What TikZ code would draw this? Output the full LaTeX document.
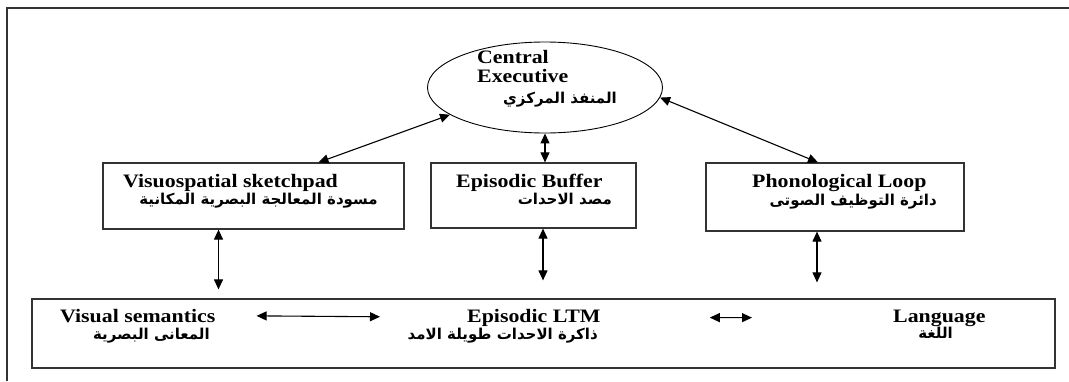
\documentclass[tikz,border=0pt]{standalone}
\usepackage{fontspec}
\setmainfont{Liberation Serif}[FakeStretch=1.15]
\newfontfamily\arabicfont[Script=Arabic]{DejaVu Sans}
\TeXXeTstate=1
\usetikzlibrary{arrows.meta,shapes.geometric}

\begin{document}
\begin{tikzpicture}[x=1pt,y=-1pt,
    box_node/.style={draw=black!80,line width=1.2pt,rectangle,inner sep=0pt},
    en_text/.style={inner sep=0pt,anchor=base west,font=\bfseries\fontsize{19}{22}\selectfont},
    ar_text/.style={inner sep=0pt,anchor=base east,font=\arabicfont\bfseries\fontsize{15}{17}\selectfont},
    link/.style={<->,>={Triangle[length=10pt,width=9pt]},line width=1.1pt}]

    \useasboundingbox (0,0) rectangle (1069,381);
    \draw[black!80,line width=1.5pt] (7,381) -- (7,8) -- (1069,8);

    \node[draw,ellipse,line width=0.9pt,minimum width=235pt,minimum height=91pt] (ce) at (545,87.5) {};
    \node[box_node,minimum width=301pt,minimum height=66pt] (vs) at (253.5,196) {};
    \node[box_node,minimum width=205pt,minimum height=65pt] (eb) at (533.5,195.5) {};
    \node[box_node,minimum width=258pt,minimum height=68pt] (pl) at (835,197) {};
    \node[box_node,minimum width=1023pt,minimum height=69pt] (ltm) at (543.5,333.5) {};

    \node[en_text] (ce_en1) at (477,63) {Central};
    \node[en_text] (ce_en2) at (477,82) {Executive};
    \node[ar_text] (ce_ar) at (617,103) {\beginR المنفذ المركزي\endR};

    \node[en_text] (vs_en) at (123,187) {Visuospatial sketchpad};
    \node[ar_text] (vs_ar) at (378,204) {\beginR مسودة المعالجة البصرية المكانية\endR};
    \node[en_text] (eb_en) at (456,187) {Episodic Buffer};
    \node[ar_text] (eb_ar) at (612,204) {\beginR مصد الاحدات\endR};
    \node[en_text] (pl_en) at (752,187) {Phonological Loop};
    \node[ar_text] (pl_ar) at (937,205) {\beginR دائرة التوظيف الصوتى\endR};

    \node[en_text] (vsem_en) at (60,322) {Visual semantics};
    \node[ar_text] (vsem_ar) at (210,339) {\beginR المعانى البصرية\endR};
    \node[en_text] (eltm_en) at (467,322) {Episodic LTM};
    \node[ar_text] (eltm_ar) at (598,339) {\beginR ذاكرة الاحدات طويلة الامد\endR};
    \node[en_text] (lang_en) at (893,322) {Language};
    \node[ar_text] (lang_ar) at (953,338) {\beginR اللغة\endR};

    \path[link]
    (ce.south) edge (ce.south |- eb.north)
    (ce.196) edge ([xshift=65pt]vs.north)
    (ce.355) edge ([xshift=-17pt]pl.north);

    \path[link]
    ([xshift=-35pt]vs.south) edge[shorten >=9pt] ([xshift=-35pt]vs.south |- ltm.north)
    ([xshift=9.5pt]eb.south) edge[shorten >=18pt] ([xshift=9.5pt]eb.south |- ltm.north)
    ([xshift=-18pt]pl.south) edge[shorten >=16pt] ([xshift=-18pt]pl.south |- ltm.north);

    \path[link]
    (vsem_en.east) edge[shorten <=41pt,shorten >=87pt] (eltm_en.west)
    (eltm_en.east) edge[shorten <=109pt,shorten >=141pt] (lang_en.west);

%   \path[link] (vs) edge (eb);
\end{tikzpicture}
\end{document}
